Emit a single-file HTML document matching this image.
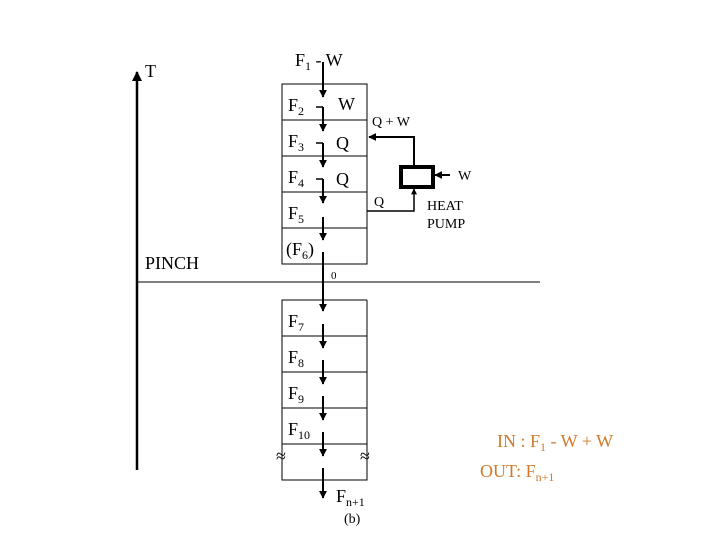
<!DOCTYPE html><html><head><style>body{margin:0;background:#fff}</style></head><body>
<svg width="720" height="540" xmlns="http://www.w3.org/2000/svg" font-family="Liberation Serif, serif">
<defs><marker id="a" viewBox="0 0 10 10" refX="9" refY="5" markerWidth="4" markerHeight="4" orient="auto"><path d="M0,0L10,5L0,10z" fill="#000"/></marker></defs>
<g stroke="#000" fill="none" stroke-width="1">
<line x1="137" y1="470" x2="137" y2="72" stroke-width="2.5" marker-end="url(#a)"/>
<line x1="137" y1="282" x2="540" y2="282"/>
<rect x="282" y="84" width="85" height="180"/>
<line x1="282" y1="120" x2="367" y2="120"/><line x1="282" y1="156" x2="367" y2="156"/><line x1="282" y1="192" x2="367" y2="192"/><line x1="282" y1="228" x2="367" y2="228"/>
<path d="M367,300H282V480H367V300M282,336H367M282,372H367M282,408H367M282,444H367"/>
<g stroke-width="2" marker-end="url(#a)">
<line x1="323" y1="62" x2="323" y2="97"/>
<line x1="323" y1="107" x2="323" y2="131"/>
<line x1="323" y1="143" x2="323" y2="167"/>
<line x1="323" y1="179" x2="323" y2="203"/>
<line x1="323" y1="217" x2="323" y2="240"/>
<line x1="323" y1="252" x2="323" y2="311"/>
<line x1="323" y1="324" x2="323" y2="348"/>
<line x1="323" y1="360" x2="323" y2="384"/>
<line x1="323" y1="396" x2="323" y2="420"/>
<line x1="323" y1="432" x2="323" y2="456"/>
<line x1="323" y1="468" x2="323" y2="498"/>
<polyline points="414,167 414,137 369,137"/>
<polyline points="367,211 414,211 414,189" stroke-width="1.5"/>
<line x1="450" y1="175" x2="435" y2="175"/>
</g>
<path d="M316,107H323M316,143H323M316,179H323" stroke-width="1.5"/>
<rect x="401" y="167" width="32" height="20" stroke-width="4"/>
</g>
<g font-size="18">
<text x="295" y="66">F<tspan font-size="12" dy="4">1</tspan><tspan dy="-4"> - W</tspan></text>
<text x="145" y="77">T</text>
<text x="288" y="111">F<tspan font-size="12" dy="4">2</tspan></text><text x="338" y="110">W</text>
<text x="288" y="147">F<tspan font-size="12" dy="4">3</tspan></text><text x="336" y="149">Q</text>
<text x="288" y="183">F<tspan font-size="12" dy="4">4</tspan></text><text x="336" y="185">Q</text>
<text x="288" y="219">F<tspan font-size="12" dy="4">5</tspan></text>
<text x="286" y="255">(F<tspan font-size="12" dy="4">6</tspan><tspan dy="-4">)</tspan></text>
<text x="145" y="269">PINCH</text>
<text x="288" y="327">F<tspan font-size="12" dy="4">7</tspan></text>
<text x="288" y="363">F<tspan font-size="12" dy="4">8</tspan></text>
<text x="288" y="399">F<tspan font-size="12" dy="4">9</tspan></text>
<text x="288" y="435">F<tspan font-size="12" dy="4">10</tspan></text>
<text x="336" y="502">F<tspan font-size="12" dy="4">n+1</tspan></text>
<text x="276" y="462">≈</text><text x="360" y="462">≈</text>
<g fill="#d07a2a"><text x="497" y="447">IN : F<tspan font-size="12" dy="4">1</tspan><tspan dy="-4"> - W + W</tspan></text>
<text x="480" y="477">OUT: F<tspan font-size="12" dy="4">n+1</tspan></text></g>
</g>
<g font-size="14">
<text x="372" y="126">Q + W</text><text x="458" y="180">W</text><text x="374" y="206">Q</text>
<text x="427" y="210">HEAT</text><text x="427" y="228">PUMP</text>
<text x="344" y="523">(b)</text>
</g>
<text x="331" y="279" font-size="11">0</text>
</svg></body></html>
